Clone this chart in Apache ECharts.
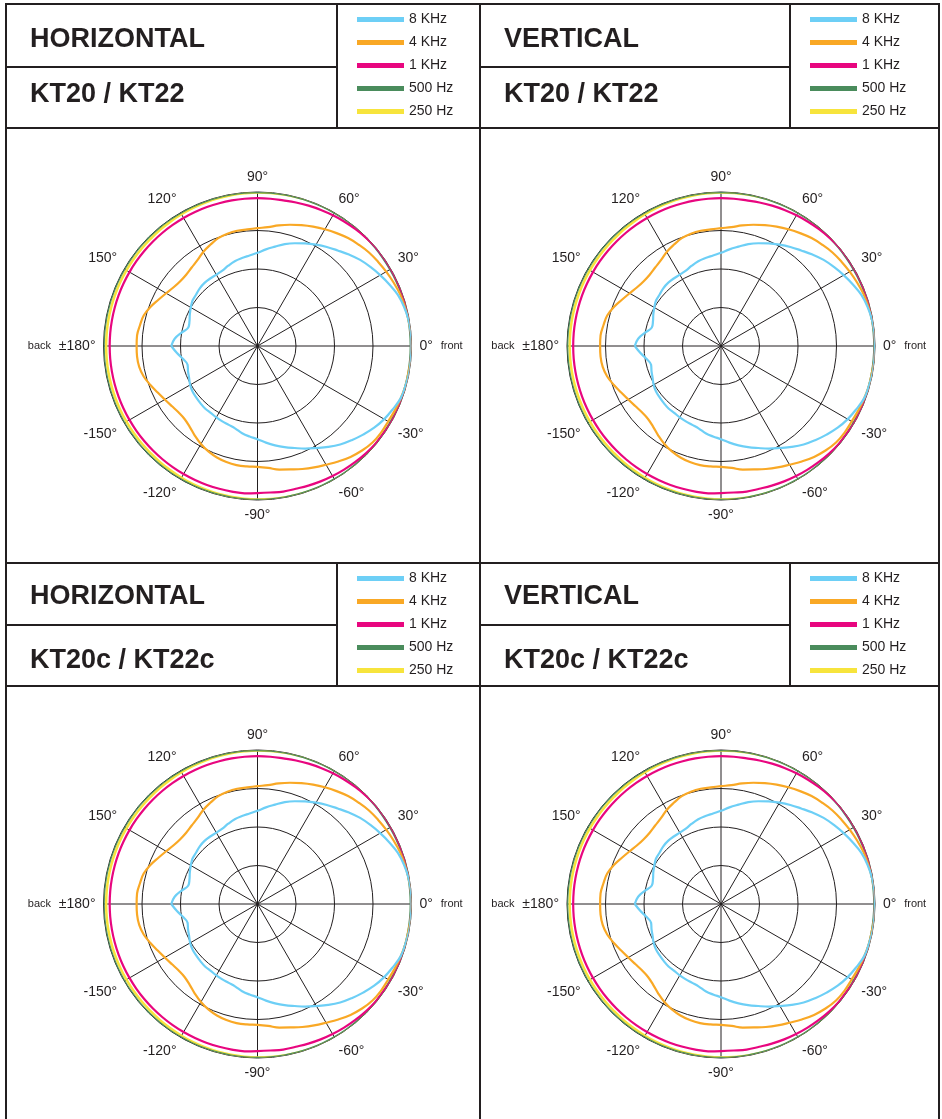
<!DOCTYPE html>
<html>
<head>
<meta charset="UTF-8">
<title>KT20 / KT22 polar patterns</title>
<script src="https://cdn.jsdelivr.net/npm/echarts@6/dist/echarts.min.js"></script>
<style>
body { margin: 0; background: #fff; }
#chart { width: 942px; height: 1119px; }
</style>
</head>
<body>
<div id="chart"></div>
<script>
// angle of each reading, degrees (0 = front, +/-180 = back)
var angles = [-180, -175, -170, -165, -160, -155, -150, -145, -140, -135, -130, -125, -120, -115, -110, -105,
  -100, -95, -90, -85, -80, -75, -70, -65, -60, -55, -50, -45, -40, -35, -30, -25, -20, -15, -10, -5,
  0, 5, 10, 15, 20, 25, 30, 35, 40, 45, 50, 55, 60, 65, 70, 75, 80, 85, 90, 95,
  100, 105, 110, 115, 120, 125, 130, 135, 140, 145, 150, 155, 160, 165, 170, 175, 180];

// relative level, % of outer ring
var khz8 = [56, 52.5, 49, 47, 48, 49, 50.5, 51.5, 52, 52.5, 53, 53, 53.5, 54, 54.5, 55.5,
  57.5, 59, 60.5, 63, 65.5, 68, 70.5, 73.5, 76.5, 80, 83.5, 86.5, 89.5, 92.5, 95, 97, 99, 99.5, 100, 100,
  100, 100, 99.5, 98.5, 97, 94.5, 92, 89.5, 87, 84, 81, 78.5, 76, 73.5, 71, 68.5, 65.5, 63, 60.5, 59,
  58, 57, 55.5, 54, 53.5, 53.5, 53.5, 53, 52, 51.5, 50, 48.5, 47, 46.5, 50, 54, 56];
var khz4 = [78.5, 78.5, 78, 76.5, 74, 71.5, 69.5, 68, 67, 67, 68.5, 71, 73.5, 75.5, 77, 78,
  78.5, 78.5, 78.5, 79.5, 81.5, 83, 85, 87, 89, 91.5, 94, 96, 97.5, 98, 98, 98.5, 99, 99.5, 99.5, 100,
  100, 100, 99.5, 99, 98.5, 97.5, 96.5, 95.5, 94.5, 93, 91.5, 89.5, 87.5, 85.5, 83.5, 81.5, 79.5, 77.5, 76.5, 76,
  76, 75.5, 74.5, 72.5, 70.5, 68, 66.5, 65.5, 65.5, 66.5, 68.5, 71, 74, 76.5, 77.5, 78.5, 78.5];
var khz1 = [96, 96, 96, 96, 96, 96, 96, 96, 96, 96, 96, 96, 96, 96, 96, 96,
  96, 96, 95.5, 95.5, 96, 96, 96.5, 97, 97.5, 98, 98.5, 99, 99.5, 99.5, 100, 100, 100, 100, 100, 100,
  100, 100, 100, 100, 100, 100, 100, 100, 100, 99.5, 99, 98.5, 98, 97.5, 97, 96.5, 96, 96, 96, 96,
  96, 96, 96, 96, 96, 96, 96, 96, 96, 96, 96, 96, 96, 96, 96, 96, 96];
var hz500 = [100, 100, 100, 100, 100, 100, 100, 100, 100, 100, 100, 100, 100, 100, 100, 100,
  100, 100, 100, 100, 100, 100, 100, 100, 100, 100, 100, 99.8, 99.7, 99.6, 99.6, 99.6, 99.6, 99.6, 99.6, 99.6,
  99.6, 99.6, 99.6, 99.6, 99.6, 99.6, 99.6, 99.6, 99.7, 99.8, 100, 100, 100, 100, 100, 100, 100, 100, 100, 100,
  100, 100, 100, 100, 100, 100, 100, 100, 100, 100, 100, 100, 100, 100, 100, 100, 100];
var hz250 = [98.3, 98.3, 98.3, 98.3, 98.3, 98.3, 98.3, 98.3, 98.3, 98.3, 98.5, 98.6, 98.8, 99, 99.1, 99.3,
  99.4, 99.5, 99.6, 99.8, 99.9, 100, 100.2, 100.3, 100.4, 100.5, 100.6, 100.6, 100.6, 100.6, 100.6, 100.6, 100.6, 100.6, 100.6, 100.6,
  100.6, 100.6, 100.6, 100.6, 100.6, 100.6, 100.6, 100.6, 100.6, 100.6, 100.6, 100.5, 100.4, 100.3, 100.2, 100, 99.9, 99.8, 99.7, 99.5,
  99.4, 99.3, 99.1, 99, 98.8, 98.6, 98.5, 98.3, 98.3, 98.3, 98.3, 98.3, 98.3, 98.3, 98.3, 98.3, 98.3];

var seriesNames = ['8 KHz', '4 KHz', '1 KHz', '500 Hz', '250 Hz'];
var seriesValues = [khz8, khz4, khz1, hz500, hz250];
var seriesColors = ['#6dcff6', '#f9a825', '#e8067f', '#4a8c5c', '#f7e43c'];
var seriesWidths = [2.2, 2.2, 2.2, 2.5, 2.5];

var titles = ['HORIZONTAL', 'VERTICAL', 'HORIZONTAL', 'VERTICAL'];
var models = ['KT20 / KT22', 'KT20 / KT22', 'KT20c / KT22c', 'KT20c / KT22c'];

var ink = '#231f20';
var font = '"Liberation Sans", Arial, sans-serif';

// layout of the 2 x 2 sheet
var colX = [6, 480];          // left edge of each column
var colLeg = [337, 790];      // left edge of legend box
var rowTop = [4, 563];
var rowMid = [67, 625];
var rowBot = [128, 686];
var titleY = [39.5, 597];
var modelY = [95, 661];
var centers = [[257.5, 346], [721, 346], [257.5, 904], [721, 904]];

var chart = echarts.init(document.getElementById('chart'));

var polar = [], angleAxis = [], radiusAxis = [], series = [], legend = [], graphic = [];

function line(x1, y1, x2, y2) {
  graphic.push({
    type: 'line', silent: true,
    shape: { x1: x1, y1: y1, x2: x2, y2: y2 },
    style: { stroke: ink, lineWidth: 2 }
  });
}
function text(str, x, y) {
  graphic.push({
    type: 'text', silent: true, x: x, y: y,
    style: { text: str, font: 'bold 27px ' + font, fill: ink, textAlign: 'left', textVerticalAlign: 'middle', align: 'left', verticalAlign: 'middle' }
  });
}

// frame
line(6, 3, 6, 1119);
line(939, 3, 939, 1119);
line(480, 3, 480, 1119);
line(5, 4, 940, 4);

for (var p = 0; p < 4; p++) {
  var c = p % 2, r = Math.floor(p / 2);

  if (c === 0) {
    line(5, rowTop[r], 940, rowTop[r]);
    line(5, rowBot[r], 940, rowBot[r]);
  }
  line(colX[c], rowMid[r], colLeg[c], rowMid[r]);
  line(colLeg[c], rowTop[r], colLeg[c], rowBot[r]);
  text(titles[p], colX[c] + 24, titleY[r]);
  text(models[p], colX[c] + 24, modelY[r]);

  polar.push({ center: centers[p], radius: 154 });
  angleAxis.push({
    polarIndex: p, type: 'value', min: -180, max: 180, interval: 30,
    startAngle: 180, clockwise: false,
    axisLine: { show: false },
    axisTick: { show: false },
    splitLine: { show: true, lineStyle: { color: ink, width: 1 } },
    axisLabel: {
      margin: 8, fontSize: 14, color: ink, fontFamily: font,
      formatter: function (v) {
        if (v === -180) return '{s|back}  ±180°';
        if (v === 180) return '';
        if (v === 0) return '0°  {s|front}';
        return v + '°';
      },
      rich: { s: { fontSize: 11, color: ink, fontFamily: font } }
    }
  });
  radiusAxis.push({
    polarIndex: p, type: 'value', min: 0, max: 100, interval: 25,
    axisLine: { show: false }, axisTick: { show: false }, axisLabel: { show: false },
    splitLine: { show: true, lineStyle: { color: ink, width: 1 } }
  });

  for (var s = seriesNames.length - 1; s >= 0; s--) {
    var vals = seriesValues[s];
    var pts = [];
    for (var i = 0; i < angles.length; i++) pts.push([vals[i], angles[i]]);
    series.push({
      name: seriesNames[s], type: 'line', coordinateSystem: 'polar', polarIndex: p,
      data: pts, smooth: 0.4, showSymbol: false, clip: false,
      color: seriesColors[s],
      lineStyle: { color: seriesColors[s], width: seriesWidths[s] }
    });
  }

  legend.push({
    data: seriesNames, orient: 'vertical', left: colLeg[c] + 20, top: rowTop[r] + 8,
    padding: 0, icon: 'rect', itemWidth: 47, itemHeight: 5, itemGap: 8, itemStyle: { borderWidth: 0 },
    selectedMode: false,
    textStyle: { fontSize: 14, lineHeight: 15, color: ink, fontFamily: font }
  });
}

chart.setOption({
  animation: false,
  backgroundColor: '#fff',
  textStyle: { fontFamily: font },
  polar: polar,
  angleAxis: angleAxis,
  radiusAxis: radiusAxis,
  legend: legend,
  series: series,
  graphic: graphic
});
</script>
</body>
</html>
